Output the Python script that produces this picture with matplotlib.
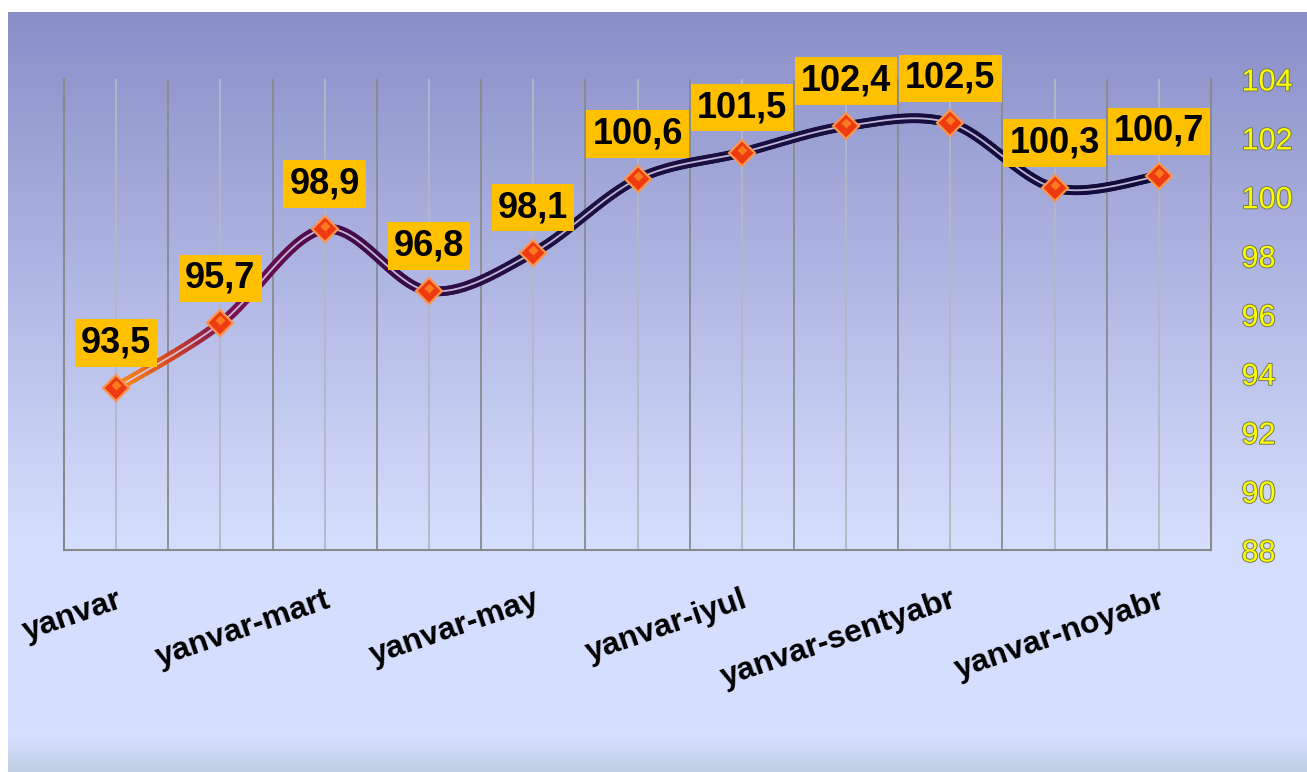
import numpy as np
import matplotlib
matplotlib.use('Agg')
import matplotlib.pyplot as plt
import matplotlib.patheffects as pe
from matplotlib.collections import LineCollection
from matplotlib.colors import LinearSegmentedColormap

# data (cumulative index, %)
categories = ['yanvar', 'yanvar-fevral', 'yanvar-mart', 'yanvar-aprel', 'yanvar-may',
              'yanvar-iyun', 'yanvar-iyul', 'yanvar-avgust', 'yanvar-sentyabr',
              'yanvar-oktyabr', 'yanvar-noyabr']
values = [93.5, 95.7, 98.9, 96.8, 98.1, 100.6, 101.5, 102.4, 102.5, 100.3, 100.7]
yticks = [88, 90, 92, 94, 96, 98, 100, 102, 104]

plt.rcParams['font.family'] = ['Liberation Sans', 'DejaVu Sans']

W, H = 1307, 772
fig = plt.figure(figsize=(W / 100, H / 100), dpi=100)
fig.patch.set_facecolor('white')

# background gradient panel
bg = fig.add_axes([8 / W, 0, 1 - 8 / W, (H - 12) / H])
rows = np.arange(12, H)
stops_y = [12, 540, 735, 772]
stops_c = np.array([[138, 142, 200], [214, 222, 253], [214, 223, 254], [192, 206, 228]]) / 255
grad = np.stack([np.interp(rows, stops_y, stops_c[:, k]) for k in range(3)], axis=1)
bg.imshow(grad[:, None, :], aspect='auto', extent=[0, 1, 0, 1])
bg.axis('off')

ax = fig.add_axes([64 / W, 1 - 550 / H, (1211 - 64) / W, (550 - 79) / H])
ax.patch.set_alpha(0)

x = np.arange(len(values))
y = np.array(values)
ax.set_xlim(-0.5, len(values) - 0.5)
ax.set_ylim(88, 104)

# grid: dark at category edges, light at category centres
ax.set_xticks(np.arange(-0.5, len(values), 1), minor=True)
ax.set_xticks(x)
ax.set_xticklabels([c if i % 2 == 0 else '' for i, c in enumerate(categories)],
                   rotation=19, ha='right', rotation_mode='anchor',
                   fontsize=23, fontweight='bold')
ax.grid(which='major', axis='x', color='#b5b7c6', lw=1.3)
ax.grid(which='minor', axis='x', color='#8a8a8e', lw=1.3)
ax.tick_params(axis='x', which='both', length=0, pad=25)

ax.yaxis.tick_right()
ax.set_yticks(yticks)
ax.tick_params(axis='y', length=0, pad=22, labelsize=22, labelcolor='#ffff00')
for lab in ax.get_yticklabels():
    lab.set_path_effects([pe.withStroke(linewidth=1.4, foreground='#707a55')])

ax.spines['top'].set_visible(False)
for s in ['left', 'right', 'bottom']:
    ax.spines[s].set_color('#8a8a8e')
    ax.spines[s].set_linewidth(1.5)

# smoothed line (catmull-rom style bezier, like spreadsheet smoothing)
pts = np.column_stack([x, y]).astype(float)
ext = np.vstack([pts[0], pts, pts[-1]])
curve = []
tt = np.linspace(0, 1, 40)
for i in range(len(pts) - 1):
    p0, p1, p2, p3 = ext[i], ext[i + 1], ext[i + 2], ext[i + 3]
    c1 = p1 + (p2 - p0) / 6
    c2 = p2 - (p3 - p1) / 6
    seg = ((1 - tt) ** 3)[:, None] * p1 + (3 * (1 - tt) ** 2 * tt)[:, None] * c1 \
        + (3 * (1 - tt) * tt ** 2)[:, None] * c2 + (tt ** 3)[:, None] * p2
    curve.append(seg if i == 0 else seg[1:])
curve = np.vstack(curve)

cmap = LinearSegmentedColormap.from_list('line', [
    (0.0, '#f7941d'), (0.05, '#d84a20'), (0.1, '#7e1450'),
    (0.2, '#4a0a4c'), (0.4, '#1e1044'), (1.0, '#120c3c')])
segs = np.stack([curve[:-1], curve[1:]], axis=1)
lc = LineCollection(segs, cmap=cmap, linewidths=7.0, capstyle='round', zorder=3)
lc.set_array((curve[:-1, 0] + curve[1:, 0]) / 2 / x[-1])
lc.set_clim(0, 1)
ax.add_collection(lc)
ax.plot(curve[:, 0], curve[:, 1], color='#dcd6f4', lw=1.3, alpha=0.85, zorder=4)

ax.plot(x, y, ls='none', marker='D', ms=13, mfc='#ee3a10', mec='#f7964e',
        mew=1.6, zorder=5)
ax.plot(x, y + 0.1, ls='none', marker='D', ms=5.5, mfc='#fb7a1e', mec='none', zorder=6)

for xi, yi in zip(x, y):
    ax.annotate(f'{yi:.1f}'.replace('.', ','), (xi, yi), xytext=(0, 32.4),
                textcoords='offset points', ha='center', va='center',
                fontsize=26, fontweight='bold', color='black',
                bbox=dict(boxstyle='square,pad=0.17', fc='#ffc000', ec='none'),
                zorder=7)

fig.savefig('out.png', dpi=100)
